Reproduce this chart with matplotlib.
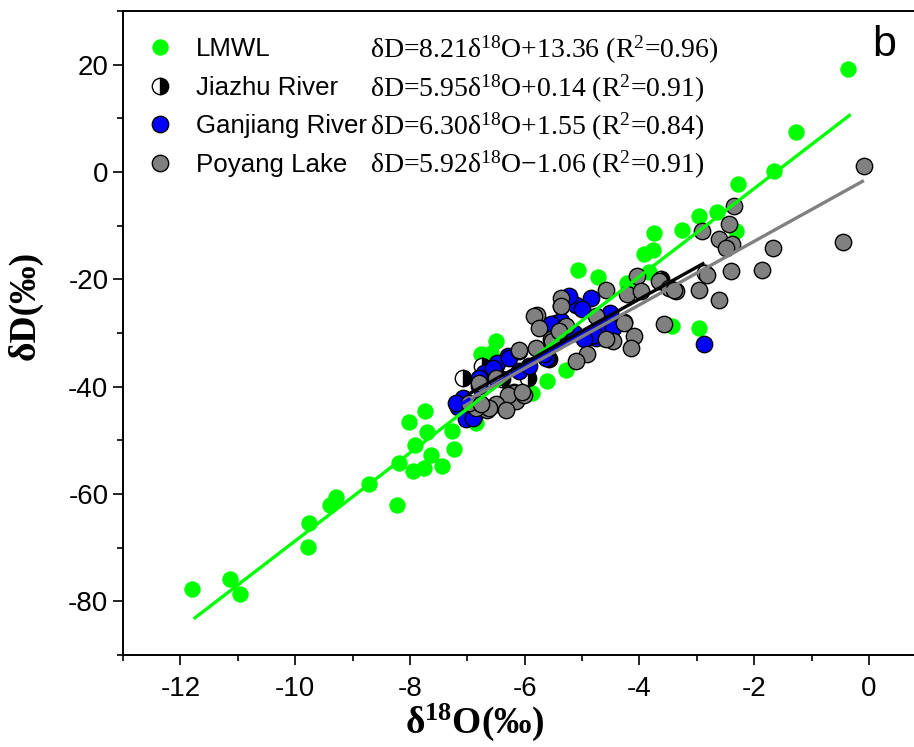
import numpy as np
import matplotlib.pyplot as plt

plt.rcParams['font.family'] = ['Liberation Sans', 'DejaVu Sans']
plt.rcParams['mathtext.fontset'] = 'custom'
plt.rcParams['mathtext.rm'] = 'Liberation Serif'
plt.rcParams['mathtext.it'] = 'Liberation Serif:italic'
plt.rcParams['mathtext.bf'] = 'Liberation Serif:bold'
plt.rcParams['axes.unicode_minus'] = False

# LMWL (precipitation)
lmwl_x = [-11.79, -11.14, -10.96, -9.76, -9.77, -9.40, -9.29, -8.72, -8.23, -8.19,
          -8.01, -7.73, -7.91, -7.94, -7.76, -7.63, -7.71, -7.44, -7.24, -7.26,
          -6.85, -6.77, -6.59, -6.50, -5.88, -5.62, -5.28, -5.07, -4.72, -4.62,
          -4.21, -3.83, -3.93, -3.76, -3.75, -3.26, -2.96, -2.65, -2.32, -2.28,
          -1.66, -1.28, -0.37, -3.43, -2.96]
lmwl_y = [-77.7, -75.9, -78.7, -65.4, -69.8, -62.0, -60.6, -58.2, -62.1, -54.2,
          -46.6, -44.5, -50.9, -55.7, -55.2, -52.8, -48.5, -54.7, -51.7, -48.2,
          -46.8, -33.9, -33.7, -31.4, -41.2, -39.0, -36.9, -18.2, -19.6, -31.2,
          -20.6, -18.6, -15.3, -14.6, -11.4, -10.8, -8.2, -7.5, -11.0, -2.2,
          0.1, 7.5, 19.2, -28.6, -29.1]

# Jiazhu River
jz_x = [-7.08, -6.74, -5.95, -5.57, -6.40, -5.37, -4.27, -3.63, -2.85]
jz_y = [-38.4, -36.2, -38.3, -34.9, -38.5, -25.0, -28.0, -20.0, -18.9]

# Ganjiang River
gj_x = [-2.87, -4.85, -5.11, -5.00, -5.46, -5.66, -5.28, -4.76, -4.56, -4.70,
        -5.63, -6.30, -6.50, -6.71, -6.10, -7.08, -7.17, -7.03, -6.88, -6.79,
        -6.18, -5.37, -5.55, -4.70, -4.91, -4.79, -5.14, -5.66, -6.91, -6.48,
        -6.27, -6.56, -6.79, -4.97, -4.47, -7.20, -6.15, -4.52, -5.23, -5.92]
gj_y = [-32.1, -23.4, -24.7, -25.6, -28.1, -28.7, -30.0, -30.9, -28.1, -28.7,
        -34.6, -34.3, -35.9, -37.4, -37.1, -42.1, -43.7, -46.1, -45.5, -39.9,
        -40.9, -27.8, -28.4, -27.2, -30.9, -30.3, -30.0, -34.0, -45.8, -35.6,
        -34.6, -36.5, -38.4, -31.2, -29.0, -43.0, -42.1, -26.2, -23.1, -36.2]

# Poyang Lake
py_x = [-4.04, -3.66, -3.48, -3.37, -2.82, -2.41, -1.87, -2.96, -2.61, -3.57,
        -4.21, -3.98, -4.59, -5.37, -5.37, -5.78, -5.84, -5.28, -4.76, -4.27,
        -4.09, -4.15, -4.47, -4.91, -5.11, -5.55, -6.10, -5.81, -6.79, -6.50,
        -6.18, -6.15, -6.30, -6.01, -6.50, -6.65, -6.33, -6.85, -6.97, -0.08,
        -2.36, -2.44, -2.91, -2.61, -2.38, -2.49, -0.45, -1.68, -3.40, -6.62,
        -6.77, -6.04, -5.75, -5.52, -4.59, -5.40, -6.10]
py_y = [-19.4, -20.3, -21.6, -22.2, -19.1, -18.5, -18.2, -21.9, -23.8, -28.3,
        -22.8, -22.2, -21.9, -23.4, -25.0, -26.6, -26.9, -28.7, -26.9, -28.1,
        -30.6, -32.8, -31.5, -34.0, -35.3, -31.2, -33.4, -32.8, -39.3, -38.4,
        -41.2, -42.7, -41.5, -41.5, -43.3, -44.3, -44.3, -44.0, -43.0, 1.1,
        -6.3, -9.6, -10.9, -12.4, -13.5, -14.1, -13.0, -14.1, -21.9, -44.0,
        -43.3, -40.9, -29.0, -31.5, -31.2, -29.7, -33.1]

names = ['LMWL', 'Jiazhu River', 'Ganjiang River', 'Poyang Lake']
slopes = [8.21, 5.95, 6.30, 5.92]
intercepts = [13.36, 0.14, 1.55, -1.06]
r2 = [0.96, 0.91, 0.84, 0.91]
fit_start = [-11.77, -7.0, -7.2, -6.95]
fit_end = [-0.32, -2.87, -4.5, -0.09]
line_colors = ['#00ff00', 'black', 'blue', 'gray']

fig = plt.figure(figsize=(9.14, 7.47), dpi=100)
ax = fig.add_axes([0.1346, 0.1232, 0.879, 0.862])

ms = 11.8
h1, = ax.plot(lmwl_x, lmwl_y, 'o', ms=ms, color='#00ff00', mec='#00ff00', mew=0)
h2, = ax.plot(jz_x, jz_y, 'o', ms=ms, mfc='black', mfcalt='white', fillstyle='right',
              mec='black', mew=1.0)
h3, = ax.plot(gj_x, gj_y, 'o', ms=ms, mfc='blue', mec='black', mew=1.0)
h4, = ax.plot(py_x, py_y, 'o', ms=ms, mfc='gray', mec='black', mew=1.0)

# regression lines
for i in [0, 2, 1, 3]:
    xs = np.array([fit_start[i], fit_end[i]])
    ax.plot(xs, slopes[i] * xs + intercepts[i], '-', color=line_colors[i], lw=2.4,
            solid_capstyle='butt')

ax.set_xlim(-13, 1)
ax.set_ylim(-90, 30)
ax.set_xticks(np.arange(-12, 1, 2))
ax.set_xticks(np.arange(-13, 1, 2), minor=True)
ax.set_yticks(np.arange(-80, 21, 20))
ax.set_yticks(np.arange(-90, 31, 10), minor=True)
ax.tick_params(which='both', direction='out', width=1.2, labelsize=20, top=False, right=False)
ax.tick_params(which='major', length=7)
ax.tick_params(which='minor', length=4)
ax.tick_params(axis='x', which='major', pad=8)
for s in ax.spines.values():
    s.set_linewidth(1.4)

ax.set_xlabel('δ$^{\\mathbf{18}}$O(‰)', fontsize=27, fontweight='bold',
              family='Liberation Serif')
ax.set_ylabel('δD(‰)', fontsize=27, fontweight='bold', family='Liberation Serif')
ax.xaxis.set_label_coords(0.438, -0.072)
ax.yaxis.set_label_coords(-0.1, 0.543)

leg = ax.legend([h1, h2, h3, h4], names, loc='upper left', bbox_to_anchor=(0.02, 0.975),
                frameon=False, fontsize=18.6, handlelength=0.8, handletextpad=1.0,
                labelspacing=0.56, borderaxespad=0.0)

eq_y = [0.940, 0.879, 0.820, 0.761]
for i in range(4):
    sign = '+' if intercepts[i] >= 0 else '\u2212'
    eq = ('δD=%.2fδ$^{18}$O%s%.2f (R$^{2}$=%.2f)'
          % (slopes[i], sign, abs(intercepts[i]), r2[i]))
    ax.text(0.308, eq_y[i], eq, transform=ax.transAxes, fontsize=20,
            family='Liberation Serif', va='center', ha='left')

ax.text(0.948, 0.947, 'b', transform=ax.transAxes, fontsize=31, ha='center', va='center')

fig.savefig('out.png', dpi=100)
